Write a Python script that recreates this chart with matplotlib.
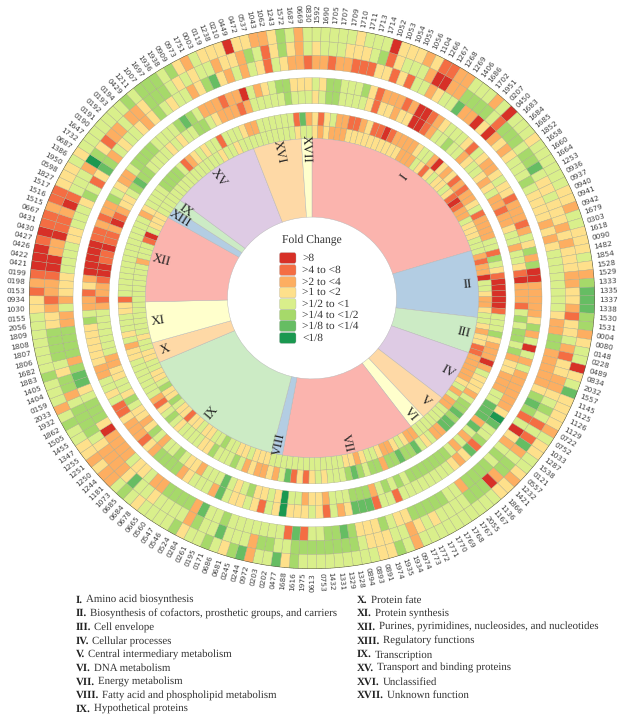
import numpy as np
import matplotlib
matplotlib.use("Agg")
import matplotlib.pyplot as plt
from matplotlib.patches import FancyBboxPatch

# ---- data ----
gene_labels = """1592 1690 1705 1707 1709 1710 1711 1713 1714 1052 1053 1054 1055 1056 1104 1266 1267 1268 1269 1406
1686 1702 1951 0207 0450 1683 1684 1685 1852 1658 1660 1664 1253 0936 0937 0940 0941 0942 1679 0303
1618 0090 1482 1854 1528 1529 1333 1335 1337 1338 1530 1531 0004 0080 0148 0228 0489 0834 2032 1557
1145 1125 1126 1129 0722 0752 1033 1287 1538 0121 0557 1232 1421 1866 1136 1167 2055 1767 1768 1769
1770 1771 1772 1773 0974 1934 1935 1974 0891 0893 0894 1328 1329 1331 1432 0753 0613 1975 1616 1688
0477 0202 0203 0972 0244 0245 0681 0686 0171 0195 0261 0284 0524 0546 0547 0560 0665 0678 0684 0685
1073 1181 1244 1250 1251 1255 1347 1455 1505 1862 1932 2033 0159 1404 1405 1883 1682 1806 1807 1808
1809 2056 0155 1030 0934 0153 0198 0199 0421 0422 0426 0427 0430 0431 0667 1515 1516 1517 1827 0598
1950 1386 0687 1732 1647 0190 0191 0192 0193 0194 0429 1211 1007 1697 1936 1938 0909 0973 1751 0003
0119 1238 0210 0449 0472 0537 1043 1062 1243 1572 1687 0669 0830""".split()

# fold-change class per gene, innermost track first (1 = >8 ... 8 = <1/8)
track1 = "4343334444 4444443335 4245445421 2335444555 3233155433 4554344223 3333453533 5555555334 5433455434 4555555555 5555444544 5565544544 2445644654 4554455455 5555555555 5355521544 4555555555 5555554554 5555555555 455"
track2 = "4245332234 2212333345 5314342323 3452333355 2654211111 2555643331 3544435667 6773354576 6766366567 6555454242 7534334356 5556445555 4565423555 5555443545 5544255555 5555555553 4555566665 2345455255 5433555555 273"
track3 = "4566555542 4434411235 5655345543 4533233455 3554213332 5656656344 3335577737 5353566666 6656565366 6555344355 8454465457 5553445655 3564344564 5544335555 5553233211 2212231234 4567665555 4545566543 3323555556 555"
track4 = "5466555642 3332311234 5554254334 5442333235 4636113333 3463515353 3333348755 6274345555 5555255277 7435245444 8452454457 3555436666 3423334225 4553344444 4653324311 1112232336 5433566665 5556765333 2331534566 444"
track5 = "3323322244 2425534557 3314134345 5565444434 3455555555 4336633333 4676251435 6566663556 6666445644 4676655272 5555555655 7366663354 4533331466 6547763666 6335344455 5544555465 2476354554 3465455346 7435354254 332"
track6 = "4555444562 4555311336 6665266656 6754454443 4344433443 2445324433 4565252735 6631666555 5454355444 5666666665 5663555755 6355554557 4333345666 6536645666 6443233211 3312231255 5386423353 3466654545 5344365246 435"
track7 = "5555545551 4443422335 5535155545 5555544355 4445436777 6634551457 4444354455 4344555555 5555356445 5555555564 7553764565 5465555456 5334344556 5355565555 5554423211 1212232244 4545555555 6566656435 4441443346 535"
tracks = [track1, track2, track3, track4, track5, track6, track7]

sector_names = ["I", "II", "III", "IV", "V", "VI", "VII", "VIII", "IX", "X", "XI", "XII", "XIII", "IX", "XV", "XVI", "XVII"]
sector_sizes = [39, 13, 7, 10, 5, 3, 25, 2, 28, 4, 8, 17, 2, 2, 17, 9, 2]
sector_colors = ["#fbb4ae", "#b3cde3", "#ccebc5", "#decbe4", "#fed9a6", "#ffffcc", "#fbb4ae", "#b3cde3", "#ccebc5",
                 "#fed9a6", "#ffffcc", "#fbb4ae", "#b3cde3", "#ccebc5", "#decbe4", "#fed9a6", "#ffffcc"]

fold_colors = ["#d73027", "#f46d43", "#fdae61", "#fee08b", "#d9ef8b", "#a6d96a", "#66bd63", "#1a9850"]
fold_labels = [">8", ">4 to <8", ">2 to <4", ">1 to <2", ">1/2 to <1", ">1/4 to <1/2", ">1/8 to <1/4", "<1/8"]

legend_left = [("I.", "Amino acid biosynthesis"),
               ("II.", "Biosynthesis of cofactors, prosthetic groups, and carriers"),
               ("III.", "Cell envelope"), ("IV.", "Cellular processes"),
               ("V.", "Central intermediary metabolism"), ("VI.", "DNA metabolism"),
               ("VII.", "Energy metabolism"), ("VIII.", "Fatty acid and phospholipid metabolism"),
               ("IX.", "Hypothetical proteins")]
legend_right = [("X.", "Protein fate"), ("XI.", "Protein synthesis"),
                ("XII.", "Purines, pyrimidines, nucleosides, and nucleotides"),
                ("XIII.", "Regulatory functions"), ("IX.", "Transcription"),
                ("XV.", "Transport and binding proteins"), ("XVI.", "Unclassified"),
                ("XVII.", "Unknown function")]

# ---- layout (radii in reference pixels along x) ----
track_edges = [(166.5, 180), (180, 194), (203, 216.5), (216.5, 230), (239, 253.5), (253.5, 268), (268, 283)]
PW, PH = 624, 720
CX, CY, RX, RY = 312, 298, 283, 271
SERIF = "Liberation Serif"
plt.rcParams["text.hinting"] = "none"

fig = plt.figure(figsize=(PW / 100, PH / 100), dpi=100, facecolor="white")
ax = fig.add_axes([(CX - RX) / PW, (PH - CY - RY) / PH, 2 * RX / PW, 2 * RY / PH], projection="polar")
ax.set_theta_zero_location("N")
ax.set_theta_direction(-1)
ax.set_aspect("auto")
ax.axis("off")

n = len(gene_labels)
step = 2 * np.pi / n
theta = (np.arange(n) + 0.5) * step

for tr, (r0, r1) in zip(tracks, track_edges):
    vals = [int(c) for c in tr.replace(" ", "")]
    assert len(vals) == n, len(vals)
    ax.bar(theta, r1 - r0, width=step, bottom=r0, color=[fold_colors[v - 1] for v in vals],
           edgecolor="#a8a888", linewidth=0.25)

# sectors
start = 0
for name, size, col in zip(sector_names, sector_sizes, sector_colors):
    mid = (start + size / 2) * step
    ax.bar(mid, 166.5 - 84.5, width=size * step, bottom=84.5, color=col, edgecolor="#b5b5b5", linewidth=0.3)
    deg = np.degrees(mid)
    rot = 90 - deg if deg <= 180 else 270 - deg
    ax.text(mid, 156, name, rotation=rot, rotation_mode="anchor", ha="center", va="center",
            family=SERIF, fontsize=9.5, color="#222222")
    start += size

# rim, ticks and gene labels
ax.plot(np.linspace(0, 2 * np.pi, 500), np.full(500, 283), color="#5a5a40", lw=0.7)
ax.vlines(theta, 283, 286, color="#444444", lw=0.35)
for t, lab in zip(theta, gene_labels):
    deg = np.degrees(t)
    right = deg <= 180
    ax.text(t, 287, lab, rotation=90 - deg if right else 270 - deg, rotation_mode="anchor",
            ha="left" if right else "right", va="center", fontsize=5.3, color="#404040", clip_on=False)
ax.set_ylim(0, 283)

# overlay in pixel coordinates for the key and the legend
ov = fig.add_axes([0, 0, 1, 1], facecolor="none")
ov.set_xlim(0, PW)
ov.set_ylim(PH, 0)
ov.axis("off")
ov.text(312, 240, "Fold Change", ha="center", va="center", family=SERIF, fontsize=8.4, color="#333333")
key_y = [258, 270, 282, 292.5, 304, 315, 326, 338]
for y, c, lab in zip(key_y, fold_colors, fold_labels):
    ov.add_patch(FancyBboxPatch((279.5, y - 5.4), 16.5, 10.8, boxstyle="round,pad=0,rounding_size=2",
                                facecolor=c, edgecolor="#b0b0b0", linewidth=0.25))
    ov.text(302, y, lab, ha="left", va="center", family=SERIF, fontsize=8.2, color="#333333")

# bottom legend: bold numeral followed by regular text
fig.canvas.draw()
rend = fig.canvas.get_renderer()
for x0, items in ((76, legend_left), (357, legend_right)):
    for i, (num, txt) in enumerate(items):
        y = 600 + 13.65 * i
        b = ov.text(x0, y, num, ha="left", va="center", family=SERIF, weight="bold", fontsize=7.8, color="#222222")
        w = b.get_window_extent(rend).width
        ov.text(x0 + w + 3, y, txt, ha="left", va="center", family=SERIF, fontsize=7.8, color="#333333")

fig.savefig("out.png", dpi=100, facecolor="white")
